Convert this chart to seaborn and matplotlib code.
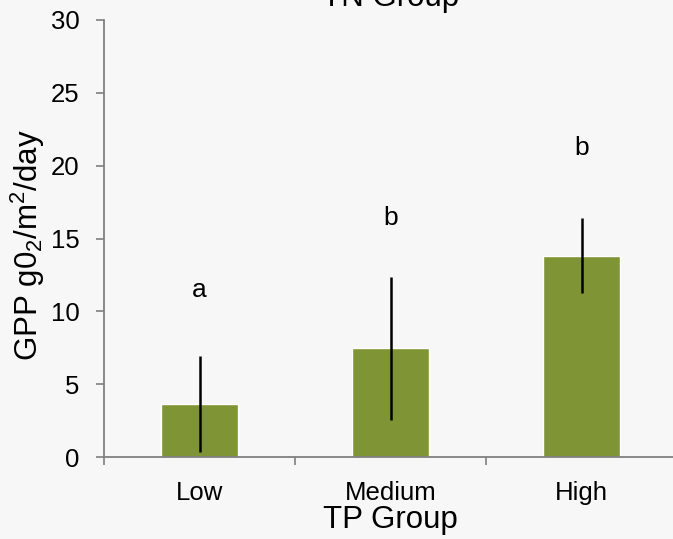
import matplotlib
matplotlib.use("Agg")
import matplotlib.pyplot as plt
import seaborn as sns
import pandas as pd

categories = ["Low", "Medium", "High"]
gpp_mean = [3.63, 7.47, 13.82]
gpp_err = [3.3, 4.9, 2.58]
sig_letters = ["a", "b", "b"]
letter_y = [11.5, 16.4, 21.2]
y_ticks = [0, 5, 10, 15, 20, 25, 30]

sns.set_theme(style="white")
plt.rcParams["font.family"] = ["Liberation Sans", "DejaVu Sans"]
plt.rcParams["mathtext.fontset"] = "custom"
plt.rcParams["mathtext.rm"] = "Liberation Sans"
plt.rcParams["mathtext.it"] = "Liberation Sans"

bg = "#f7f7f7"
bar_color = "#7f9535"
axis_grey = "#808080"

fig = plt.figure(figsize=(6.73, 5.39), dpi=100)
fig.patch.set_facecolor(bg)
ax = fig.add_axes([104 / 673, 81.8 / 539, 573 / 673, 437.4 / 539])
ax.set_facecolor("none")

df = pd.DataFrame({"group": categories, "gpp": gpp_mean})
sns.barplot(data=df, x="group", y="gpp", color=bar_color, saturation=1,
            width=0.4, errorbar=None, ax=ax, order=categories)
ax.errorbar(x=list(range(len(categories))), y=gpp_mean, yerr=gpp_err,
            fmt="none", ecolor="black", elinewidth=1.8, capsize=0, zorder=5)

for i, (lab, ly) in enumerate(zip(sig_letters, letter_y)):
    ax.text(i, ly, lab, ha="center", va="center", fontsize=19, color="black")

ax.set_xlim(-0.5, 2.5)
ax.set_ylim(0, 30)
ax.set_yticks(y_ticks)
ax.set_yticklabels([str(t) for t in y_ticks], fontsize=18.5)
ax.set_xticks(range(len(categories)))
ax.set_xticklabels(categories, fontsize=18.5)
ax.set_xticks([-0.5, 0.5, 1.5, 2.5], minor=True)
ax.tick_params(axis="x", which="major", length=0, pad=17, colors="black")
ax.tick_params(axis="x", which="minor", length=6, width=1.2, color=axis_grey, direction="out", bottom=True)
ax.tick_params(axis="y", which="major", length=6, width=1.2, color=axis_grey, direction="out", left=True, pad=11.5, labelcolor="black")

for s in ["top", "right"]:
    ax.spines[s].set_visible(False)
for s in ["left", "bottom"]:
    ax.spines[s].set_color(axis_grey)
    ax.spines[s].set_linewidth(1.3)

ax.set_xlabel("TP Group", fontsize=22.5, color="black", labelpad=0)
ax.set_ylabel("GPP g0$_2$/m$^2$/day", fontsize=22.5, color="black")
ax.yaxis.set_label_coords(-(104 - 28) / 573, (457 - 245) / 437.4)
ax.yaxis.label.set_va("center")

fig.text(390.5 / 673, 533 / 539, "TN Group", ha="center", va="baseline", fontsize=22.5, color="black")

fig.savefig("out.png", dpi=100, facecolor=bg)
